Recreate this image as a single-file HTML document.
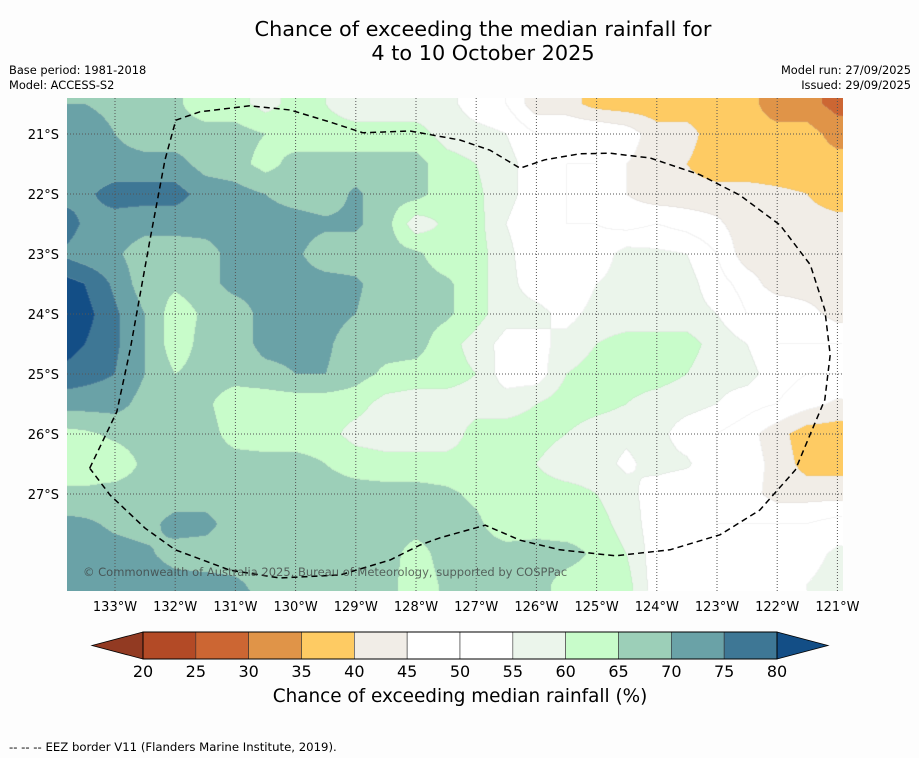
<!DOCTYPE html>
<html><head><meta charset="utf-8">
<style>
body{margin:0;background:#fdfdfd;font-family:"Liberation Sans","DejaVu Sans",sans-serif;}
#wrap{position:relative;width:919px;height:758px;overflow:hidden;background:#fdfdfd;}
.t{position:absolute;color:#000;white-space:nowrap;}
</style></head><body>
<div id="wrap">
<div class="t" style="left:0;width:966px;top:18px;text-align:center;font-size:20.8px;line-height:23.5px;font-family:'DejaVu Sans',sans-serif;">Chance of exceeding the median rainfall for<br>4 to 10 October 2025</div>
<div class="t" style="left:9px;top:63px;font-size:11.4px;line-height:15px;font-family:'DejaVu Sans',sans-serif;">Base period: 1981-2018<br>Model: ACCESS-S2</div>
<div class="t" style="right:8px;top:63px;font-size:11.4px;line-height:15px;text-align:right;font-family:'DejaVu Sans',sans-serif;">Model run: 27/09/2025<br>Issued: 29/09/2025</div>
<canvas id="map" width="776" height="493" style="position:absolute;left:67px;top:98px;"></canvas>
<svg id="ov" width="919" height="758" style="position:absolute;left:0;top:0;"></svg>
<div class="t" style="left:83px;top:565px;font-size:11.5px;color:rgba(60,60,60,0.75);font-family:'DejaVu Sans',sans-serif;">© Commonwealth of Australia 2025, Bureau of Meteorology, supported by COSPPac</div>
<div class="t" style="left:0;width:920px;top:686px;text-align:center;font-size:18.4px;font-family:'DejaVu Sans',sans-serif;">Chance of exceeding median rainfall (%)</div>
<div class="t" style="left:9px;top:740px;font-size:11.7px;font-family:'DejaVu Sans',sans-serif;">--  --  -- EEZ border V11 (Flanders Marine Institute, 2019).</div>
</div>
<script>
// grid nodes (degrees W / degrees S)
const lons=[134,133.5,133,132.5,132,131.5,131,130.5,130,129.5,129,128.5,128,127.5,127,126.5,126,125.5,125,124.5,124,123.5,123,122.5,122,121.5,121,120.5];
const lats=[20,20.5,21,21.5,22,22.5,23,23.5,24,24.5,25,25.5,26,26.5,27,27.5,28,28.5,29];
const r20=[68,67,67,67,66,62,62,58,62,60,57,57,57,57,52,50,42,42,38,37,37,37,37,37,32,32,28,28];
const r205=[70,70,69,68,66,62,62,58,62,60,57,57,57,57,52,50,42,42,38,37,37,37,37,37,32,32,28,28];
const values=[
r20,r205,
[73,72,70,67,67,67,67,65,62,62,62,62,62,58,57,55,50,50,50,48,42,42,37,37,37,37,33,33],
[72,72,72,72,72,68,67,63,67,67,67,67,67,62,60,57,52,50,50,45,42,40,37,37,37,37,37,37],
[72,74,77,77,77,73,72,70,68,67,71,67,67,62,61,57,52,50,47,45,42,42,42,42,41,40,37,37],
[80,74,73,72,72,72,72,72,72,71,71,67,57,61,62,55,50,50,50,48,50,48,46,42,42,42,42,42],
[75,72,71,67,67,68,72,72,71,67,67,67,66,62,62,57,50,50,52,57,56,55,50,42,42,42,42,42],
[83,80,74,67,66,68,72,72,72,72,71,67,67,66,62,57,52,50,55,57,57,57,52,48,42,42,42,42],
[84,82,76,70,62,66,67,72,72,72,70,67,67,66,62,57,57,53,57,57,57,57,55,50,50,47,43,43],
[84,80,76,70,62,67,67,72,72,71,67,67,67,62,58,53,53,57,60,62,62,62,58,55,50,50,50,50],
[79,77,75,70,65,67,67,68,70,70,67,64,63,62,60,52,52,60,62,62,62,60,57,57,52,50,50,50],
[72,72,72,68,67,66,62,62,62,62,62,58,57,58,58,58,60,63,62,60,58,57,55,52,50,47,44,44],
[63,64,66,67,67,67,63,62,62,62,58,57,57,57,62,62,62,60,57,56,57,52,50,47,42,37,37,37],
[62,62,62,66,67,67,67,67,67,65,63,62,62,62,62,62,60,57,57,54,57,56,50,48,43,38,38,38],
[66,66,67,67,67,67,67,67,67,67,67,67,67,66,64,62,62,62,60,57,52,50,50,47,43,43,43,43],
[72,71,69,68,72,72,67,67,67,67,67,67,67,67,66,62,63,62,62,58,52,50,50,50,50,50,52,52],
[73,73,72,71,68,67,67,67,67,67,67,67,63,67,67,67,67,67,64,60,52,50,50,50,52,53,56,56],
[73,73,73,73,72,72,71,68,67,67,67,67,62,66,67,67,67,63,62,62,52,50,50,50,50,55,57,57],
[73,73,73,73,73,73,72,71,67,67,67,67,62,66,67,67,67,63,62,62,52,50,50,50,50,55,57,57]
];
const levels=[20,25,30,35,40,45,50,55,60,65,70,75,80];
const colors=["#923a22","#b34a26","#cc6633","#e09448","#fecb63","#f1ede7","#ffffff","#ffffff","#ebf5eb","#c8fcca","#9ccfb8","#6aa2a7","#3e7795","#134e86"];
const lonTicks=[133,132,131,130,129,128,127,126,125,124,123,122,121];
const latTicks=[21,22,23,24,25,26,27];
const eezLon=[133.42,132.97,132.75,132.42,132.17,131.99,131.59,130.76,130.09,129.43,128.88,128.10,127.27,126.77,126.27,125.86,125.28,124.78,124.11,123.28,122.62,121.95,121.45,121.21,121.12,121.21,121.42,121.70,122.29,122.95,123.78,124.69,125.61,126.27,126.85,127.60,127.93,128.43,129.26,130.26,131.09,132.00,132.50,133.08,133.42];
const eezLat=[26.57,25.63,24.6,22.77,21.43,20.77,20.63,20.53,20.6,20.8,20.98,20.95,21.1,21.27,21.57,21.43,21.33,21.32,21.4,21.68,22.02,22.52,23.18,23.93,24.68,25.43,25.93,26.6,27.27,27.68,27.93,28.03,27.93,27.77,27.52,27.73,27.85,28.1,28.35,28.4,28.27,27.93,27.57,27.02,26.57];

const X=lon=>115+(133-lon)*60.2;
const Y=lat=>134+(lat-21)*60;
const invLon=x=>133-(x-115)/60.2;
const invLat=y=>21+(y-134)/60;
function hex(c){return [parseInt(c.substr(1,2),16),parseInt(c.substr(3,2),16),parseInt(c.substr(5,2),16)];}
const rgb=colors.map(hex);
function bin(x){let k=0;while(k<levels.length&&x>=levels[k])k++;return k;}
function valAt(lon,lat){
  let fi=(lons[0]-lon)/0.5, fj=(lat-lats[0])/0.5;
  fi=Math.max(0,Math.min(lons.length-1.001,fi));fj=Math.max(0,Math.min(lats.length-1.001,fj));
  const i=Math.floor(fi),j=Math.floor(fj),a=fi-i,b=fj-j;
  const v00=values[j][i],v10=values[j][i+1],v01=values[j+1][i],v11=values[j+1][i+1];
  return v00*(1-a)*(1-b)+v10*a*(1-b)+v01*(1-a)*b+v11*a*b;
}
const cv=document.getElementById('map');const ctx=cv.getContext('2d');
const img=ctx.createImageData(776,493);
const vals=new Float32Array(776*493);
for(let py=0;py<493;py++){for(let px=0;px<776;px++){
  const v=valAt(invLon(px+67+0.5),invLat(py+98+0.5));vals[py*776+px]=v;
  const c=rgb[bin(v)];const o=(py*776+px)*4;img.data[o]=c[0];img.data[o+1]=c[1];img.data[o+2]=c[2];img.data[o+3]=255;
}}
for(let py=0;py<492;py++){for(let px=0;px<775;px++){
  const b=bin(vals[py*776+px]);
  if(b!==bin(vals[py*776+px+1])||b!==bin(vals[(py+1)*776+px])){const o=(py*776+px)*4;for(let q=0;q<3;q++)img.data[o+q]=Math.round(img.data[o+q]*0.85+180*0.15);}
}}
ctx.putImageData(img,0,0);

const NS='http://www.w3.org/2000/svg';const ov=document.getElementById('ov');
function mk(tag,attrs){const e=document.createElementNS(NS,tag);for(const k in attrs)e.setAttribute(k,attrs[k]);ov.appendChild(e);return e;}
lonTicks.forEach(l=>{
  const g=mk('line',{x1:X(l),x2:X(l),y1:98,y2:591,stroke:'#555',"stroke-width":1,"stroke-dasharray":"1,2"});
  
  
  const t=mk('text',{x:X(l),y:611,"text-anchor":"middle","font-size":13,"font-family":"DejaVu Sans, sans-serif"});t.textContent=l+'°W';
  
  
});
latTicks.forEach(l=>{
  const g=mk('line',{x1:67,x2:843,y1:Y(l),y2:Y(l),stroke:'#555',"stroke-width":1,"stroke-dasharray":"1,2"});
  
  
  const t=mk('text',{x:59,y:Y(l)+5,"text-anchor":"end","font-size":13,"font-family":"DejaVu Sans, sans-serif"});t.textContent=l+'°S';
  
  
});
let d='';eezLon.forEach((l,i)=>{d+=(i?'L':'M')+X(l).toFixed(1)+','+Y(eezLat[i]).toFixed(1);});
const eez=mk('path',{d:d,fill:'none',stroke:'#000',"stroke-width":1.5,"stroke-dasharray":"6,4"});


const cbX=v=>143+(v-20)*(634/60);
const cy0=632,cy1=659;
const lt=mk('polygon',{points:`92,645.5 ${cbX(20)},${cy0} ${cbX(20)},${cy1}`,fill:colors[0],stroke:'#000',"stroke-width":0.8});


const rt=mk('polygon',{points:`828,645.5 ${cbX(80)},${cy0} ${cbX(80)},${cy1}`,fill:colors[13],stroke:'#000',"stroke-width":0.8});


for(let i=0;i<levels.length-1;i++){
  const r=mk('rect',{x:cbX(levels[i]),y:cy0,width:cbX(levels[i+1])-cbX(levels[i]),height:cy1-cy0,fill:colors[i+1],stroke:'#333',"stroke-width":0.6});
  
  
}
const fr=mk('rect',{x:cbX(20),y:cy0,width:cbX(80)-cbX(20),height:cy1-cy0,fill:'none',stroke:'#000',"stroke-width":1});


levels.forEach(v=>{
  const t=mk('text',{x:cbX(v),y:677,"text-anchor":"middle","font-size":16,"font-family":"DejaVu Sans, sans-serif"});t.textContent=v;
  
  
});
</script>
</body></html>
